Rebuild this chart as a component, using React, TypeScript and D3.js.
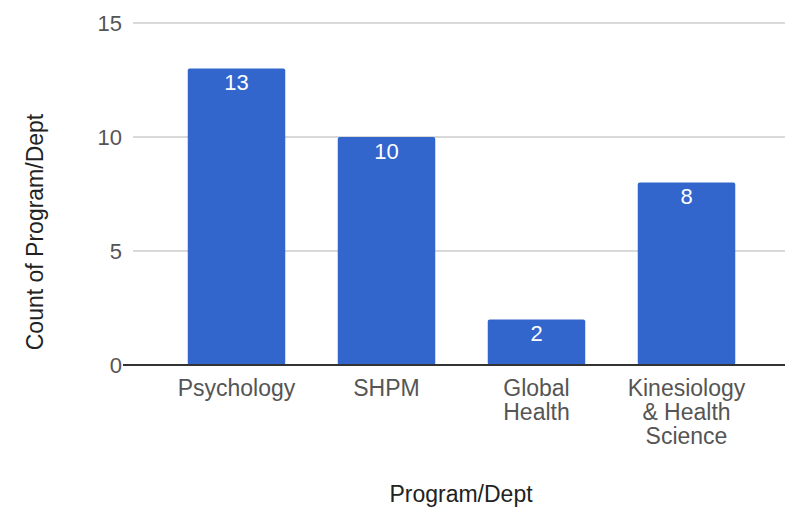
import React from "react";
import * as d3 from "d3";

const categories: string[][] = [["Psychology"], ["SHPM"], ["Global", "Health"], ["Kinesiology", "& Health", "Science"]];
const values: number[] = [13, 10, 2, 8];
const yTicks: number[] = [0, 5, 10, 15];
const xTitle = "Program/Dept";
const yTitle = "Count of Program/Dept";

export default function App() {
  const W = 788, H = 509;
  const left = 133, right = 785, top = 23, bottom = 365;
  const y = d3.scaleLinear().domain([0, 15]).range([bottom, top]);
  const x = d3.scaleBand<number>().domain(values.map((_, i) => i)).range([161.5, 761.5]).paddingInner(0.35).paddingOuter(0.175);
  const font = "Arial, 'Liberation Sans', sans-serif";
  const fs = 22;
  const fl = 23;
  return (
    <svg width={W} height={H} style={{ position: "absolute", left: 0, top: 0, background: "#fff" }} fontFamily={font}>
      {yTicks.map((t) => (
        <g key={t}>
          {t !== 0 && <line x1={left} x2={right} y1={y(t)} y2={y(t)} stroke="#cccccc" strokeWidth={1.5} />}
          <text x={left - 11} y={y(t)} dy="0.35em" textAnchor="end" fontSize={fs} fill="#555">{t}</text>
        </g>
      ))}
      {values.map((v, i) => (
        <g key={i}>
          <rect x={x(i)} y={y(v)} width={x.bandwidth()} height={y(0) - y(v)} fill="#3366cc" rx={2} />
          <text x={(x(i) as number) + x.bandwidth() / 2} y={y(v) + 14} dy="0.35em" textAnchor="middle" fontSize={fs} fill="#fff">{v}</text>
          {categories[i].map((line, j) => (
            <text key={j} x={(x(i) as number) + x.bandwidth() / 2} y={388 + j * 24} dy="0.35em" textAnchor="middle" fontSize={fl} fill="#555">{line}</text>
          ))}
        </g>
      ))}
      <line x1={123} x2={right} y1={y(0)} y2={y(0)} stroke="#333" strokeWidth={2} />
      <text x={461} y={494} dy="0.35em" textAnchor="middle" fontSize={fl} fill="#222">{xTitle}</text>
      <text transform={`translate(35,232) rotate(-90)`} dy="0.35em" textAnchor="middle" fontSize={fl} fill="#222">{yTitle}</text>
    </svg>
  );
}
